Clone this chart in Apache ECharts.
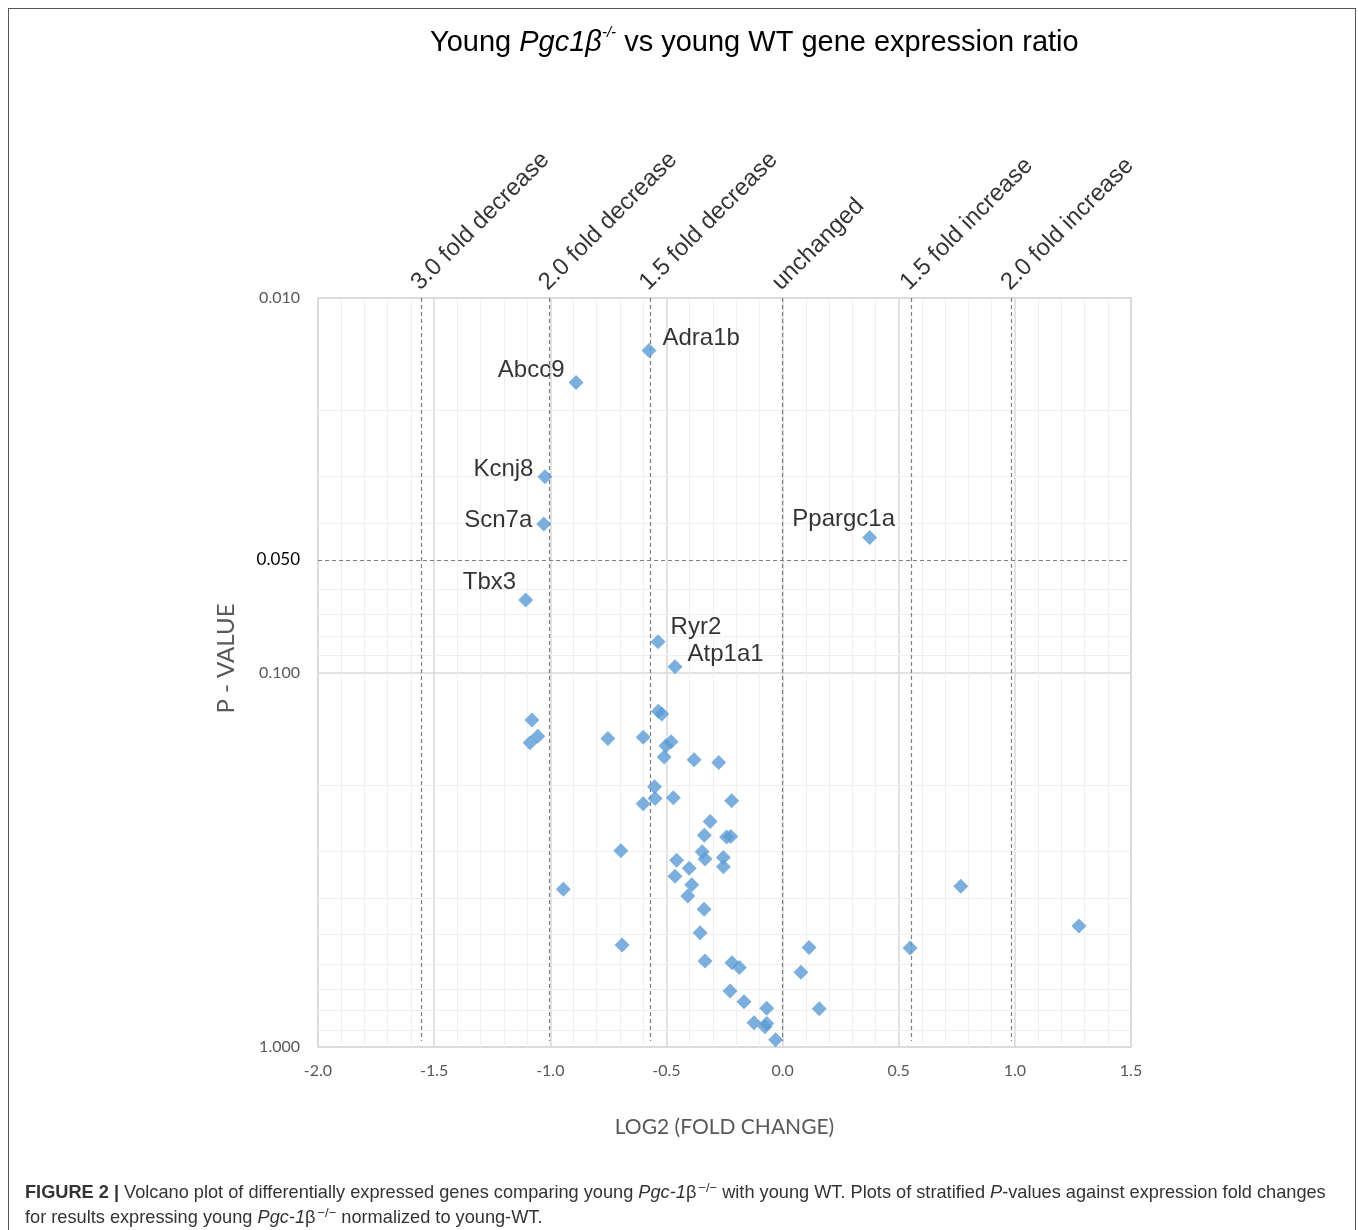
<!DOCTYPE html>
<html>
<head>
<meta charset="utf-8">
<script src="https://cdn.jsdelivr.net/npm/echarts@6/dist/echarts.min.js"></script>
<style>
  html, body { margin: 0; padding: 0; background: #fff; }
  #chart { width: 1358px; height: 1230px; }
  #frame { position: absolute; left: 8px; top: 8px; width: 1346px; height: 1240px; border: 1.5px solid #555; pointer-events: none; }
</style>
</head>
<body>
<div id="chart"></div>
<div id="frame"></div>
<script>
// labelled genes
const labeledGenes = ["Adra1b", "Abcc9", "Kcnj8", "Scn7a", "Ppargc1a", "Tbx3", "Ryr2", "Atp1a1"]
const labeledLog2FC = [-0.575, -0.889, -1.023, -1.028, 0.375, -1.106, -0.536, -0.463]
const labeledP = [0.0138, 0.0168, 0.0300, 0.0401, 0.0436, 0.0640, 0.0828, 0.0965]

// the rest of the genes (no label)
const otherLog2FC = [
  -1.079, -1.054, -1.087, -0.752, -0.600, -0.535, -0.520, -0.480, -0.502, -0.510,
  -0.381, -0.275, -0.551, -0.549, -0.600, -0.470, -0.219, -0.312, -0.337, -0.241,
  -0.223, -0.696, -0.346, -0.334, -0.255, -0.255, -0.456, -0.402, -0.463, -0.391,
  -0.408, -0.944, 0.767, -0.338, 1.276, -0.355, -0.691, 0.114, 0.549, -0.334,
  -0.218, -0.186, 0.079, -0.226, -0.166, -0.068, 0.158, -0.123, -0.068, -0.076,
  -0.030
]
const otherP = [
  0.134, 0.148, 0.154, 0.150, 0.149, 0.127, 0.129, 0.153, 0.157, 0.168,
  0.171, 0.174, 0.202, 0.217, 0.224, 0.216, 0.220, 0.250, 0.272, 0.275,
  0.274, 0.299, 0.301, 0.315, 0.312, 0.330, 0.317, 0.333, 0.350, 0.369,
  0.395, 0.379, 0.372, 0.429, 0.475, 0.495, 0.534, 0.542, 0.544, 0.589,
  0.596, 0.613, 0.632, 0.709, 0.757, 0.788, 0.790, 0.861, 0.865, 0.883,
  0.956
]

// fold change reference lines
const foldNames = ["3.0 fold decrease", "2.0 fold decrease", "1.5 fold decrease", "unchanged", "1.5 fold increase", "2.0 fold increase"]
const foldLog2 = [-1.554, -1.004, -0.571, 0, 0.552, 0.986]
const pThreshold = 0.05

// axis ranges and minor log grid
const xMin = -2.0, xMax = 1.5, xStep = 0.5
const pMin = 0.01, pMax = 1
const pMinorGrid = [0.02, 0.03, 0.04, 0.06, 0.07, 0.08, 0.09, 0.2, 0.3, 0.4, 0.5, 0.6, 0.7, 0.8, 0.9]

const labelPlace = {
  Adra1b: { position: "right", offset: [0, -12] },
  Abcc9: { position: "left", offset: [2, -12] },
  Kcnj8: { position: "left", offset: [2, -7] },
  Scn7a: { position: "left", offset: [2, -4] },
  Ppargc1a: { position: "top", offset: [-26, 7] },
  Tbx3: { position: "left", offset: [4, -18] },
  Ryr2: { position: "right", offset: [-1, -14] },
  Atp1a1: { position: "right", offset: [-1, -12] }
}

const ARIAL = "'Liberation Sans', Arial, sans-serif"
const CALIBRI = "Lato, 'Liberation Sans', sans-serif"
const blue = "#5b9bd5"

const chart = echarts.init(document.getElementById("chart"))

const option = {
  animation: false,
  title: [
    {
      text: "{n|Young }{i|Pgc1β}{s|-/-}{n| vs young WT gene expression ratio}",
      left: 425,
      top: 20,
      textStyle: {
        fontWeight: "normal",
        rich: {
          n: { fontFamily: ARIAL, fontSize: 29, fontWeight: "normal", color: "#000", lineHeight: 36 },
          i: { fontFamily: ARIAL, fontSize: 29, fontWeight: "normal", fontStyle: "italic", color: "#000", lineHeight: 36 },
          s: { fontFamily: ARIAL, fontSize: 15, fontWeight: "normal", fontStyle: "italic", color: "#000", verticalAlign: "top", lineHeight: 36 }
        }
      }
    },
    {
      text: "{b|FIGURE 2 |}{n| Volcano plot of differentially expressed genes comparing young }{i|Pgc-1}{n|β}{s|−/−}{n| with young WT. Plots of stratified }{i|P}{n|-values against expression fold changes}\n{n|for results expressing young }{i|Pgc-1}{n|β}{s|−/−}{n| normalized to young-WT.}",
      left: 20,
      top: 1175,
      textStyle: {
        fontWeight: "normal",
        rich: {
          b: { fontFamily: ARIAL, fontSize: 18.2, fontWeight: "bold", color: "#333", lineHeight: 25 },
          n: { fontFamily: ARIAL, fontSize: 18.2, fontWeight: "normal", color: "#333", lineHeight: 25 },
          i: { fontFamily: ARIAL, fontSize: 18.2, fontWeight: "normal", fontStyle: "italic", color: "#333", lineHeight: 25 },
          s: { fontFamily: ARIAL, fontSize: 13, fontWeight: "normal", color: "#333", verticalAlign: "top", lineHeight: 25, padding: [2, 0, 0, 2] }
        }
      }
    }
  ],
  grid: {
    left: 318,
    top: 298,
    width: 813,
    height: 749,
    show: true,
    borderColor: "#d9d9d9",
    borderWidth: 1.5
  },
  xAxis: {
    type: "value",
    min: xMin,
    max: xMax,
    interval: xStep,
    name: "LOG2 (FOLD CHANGE)",
    nameLocation: "middle",
    nameGap: 70,
    nameTextStyle: { fontFamily: CALIBRI, fontSize: 21, color: "#595959" },
    axisLine: { show: false },
    axisTick: { show: false },
    axisLabel: {
      margin: 16,
      fontFamily: CALIBRI,
      fontSize: 16,
      color: "#595959",
      formatter: (v) => v.toFixed(1)
    },
    splitLine: { show: true, lineStyle: { color: "#d9d9d9", width: 1.5 } },
    minorTick: { show: false, splitNumber: 5 },
    minorSplitLine: { show: true, lineStyle: { color: "#efefef", width: 1 } }
  },
  yAxis: {
    type: "log",
    logBase: 10,
    min: pMin,
    max: pMax,
    inverse: true,
    name: "P - VALUE",
    nameLocation: "middle",
    nameGap: 80,
    nameTextStyle: { fontFamily: CALIBRI, fontSize: 24, color: "#595959", padding: [0, 0, 0, 28] },
    axisLine: { show: false },
    axisTick: { show: false },
    axisLabel: {
      margin: 18,
      fontFamily: CALIBRI,
      fontSize: 16,
      color: "#595959",
      formatter: (v) => Number(v).toFixed(3)
    },
    splitLine: { show: true, lineStyle: { color: "#d9d9d9", width: 1.5 } }
  },
  series: [
    {
      // minor log grid
      type: "line",
      data: [],
      z: 1,
      markLine: {
        silent: true,
        symbol: "none",
        animation: false,
        label: { show: false },
        data: pMinorGrid.map((p) => ({
          yAxis: p,
          lineStyle: { color: "#efefef", width: 1, type: "solid" }
        }))
      }
    },
    {
      // fold-change and p-value reference lines
      type: "line",
      data: [],
      z: 3,
      markLine: {
        silent: true,
        symbol: "none",
        animation: false,
        data: [
          ...foldLog2.map((x) => [
            { coord: [x, pMin], lineStyle: { color: "#7f7f7f", width: 1.2, type: [4, 3] }, label: { show: false } },
            { coord: [x, 0.964] }
          ]),
          [
            {
              coord: [xMin, pThreshold],
              lineStyle: { color: "#7f7f7f", width: 1.2, type: [4, 3] },
              label: {
                show: true,
                position: "start",
                distance: 18,
                formatter: pThreshold.toFixed(3),
                fontFamily: CALIBRI,
                fontSize: 17,
                color: "#000"
              }
            },
            { coord: [1.485, pThreshold] }
          ]
        ]
      }
    },
    {
      // fold labels above the plot
      type: "scatter",
      symbolSize: 0,
      silent: true,
      clip: false,
      data: foldLog2.map((x, i) => ({ value: [x, pMin], name: foldNames[i] })),
      label: {
        show: true,
        position: "top",
        distance: 18,
        rotate: 45,
        align: "left",
        verticalAlign: "middle",
        offset: [-9, 0],
        formatter: (p) => p.name,
        fontFamily: ARIAL,
        fontSize: 24,
        color: "#000"
      }
    },
    {
      name: "genes",
      type: "scatter",
      symbol: "diamond",
      symbolSize: 15,
      z: 5,
      itemStyle: { color: blue },
      data: otherLog2FC.map((x, i) => [x, otherP[i]])
    },
    {
      name: "labelled genes",
      type: "scatter",
      symbol: "diamond",
      symbolSize: 15,
      z: 5,
      itemStyle: { color: blue },
      data: labeledGenes.map((g, i) => ({
        name: g,
        value: [labeledLog2FC[i], labeledP[i]],
        label: Object.assign({ show: true }, labelPlace[g])
      })),
      label: {
        show: true,
        distance: 6,
        formatter: (p) => p.name,
        fontFamily: ARIAL,
        fontSize: 24,
        color: "#000"
      }
    }
  ]
}

chart.setOption(option)
</script>
</body>
</html>
